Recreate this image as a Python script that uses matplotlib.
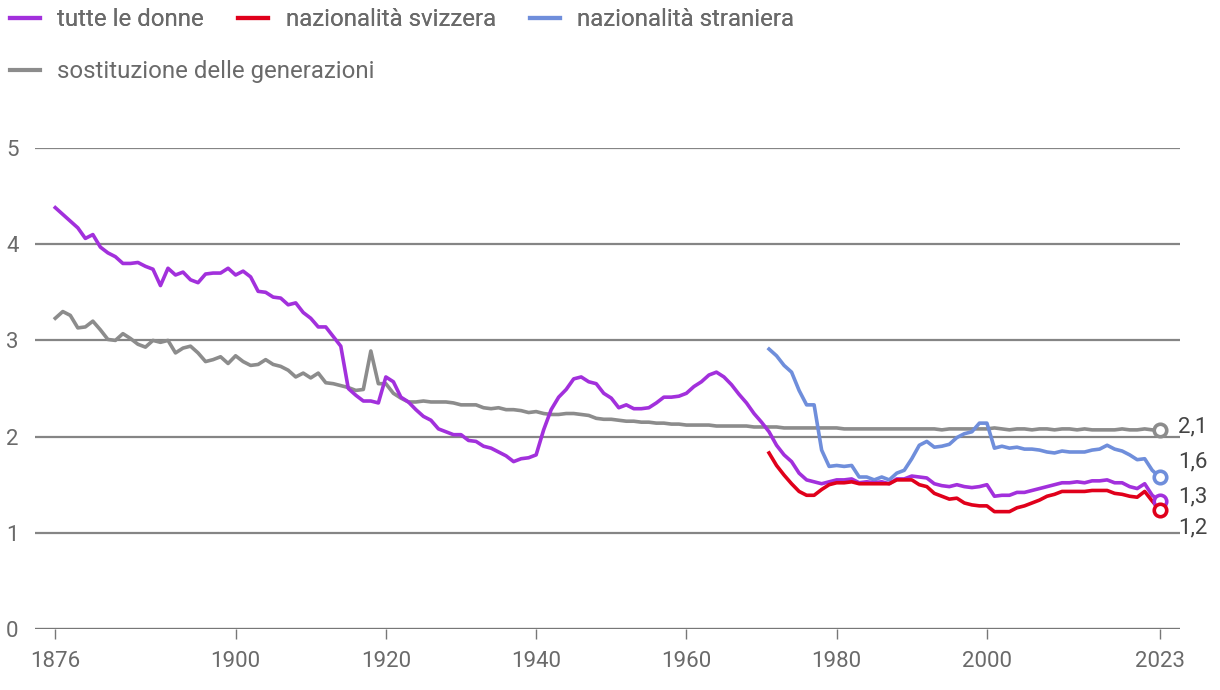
import numpy as np
import matplotlib
matplotlib.use('Agg')
import matplotlib.pyplot as plt
from matplotlib.lines import Line2D

plt.rcParams['font.family'] = ['Roboto', 'DejaVu Sans']

# anni
years_all = list(range(1876, 2024))
years_nat = list(range(1971, 2024))

# tutte le donne
all_women = [4.38, 4.31, 4.24, 4.17, 4.06, 4.10, 3.97, 3.91, 3.87, 3.80,
             3.80, 3.81, 3.77, 3.74, 3.57, 3.75, 3.68, 3.71, 3.63, 3.60,
             3.69, 3.70, 3.70, 3.75, 3.68, 3.72, 3.66, 3.51, 3.50, 3.45,
             3.44, 3.37, 3.39, 3.29, 3.23, 3.14, 3.14, 3.04, 2.94, 2.50,
             2.43, 2.37, 2.37, 2.35, 2.62, 2.57, 2.41, 2.36, 2.28, 2.21,
             2.17, 2.08, 2.05, 2.02, 2.02, 1.96, 1.95, 1.90, 1.88, 1.84,
             1.80, 1.74, 1.77, 1.78, 1.81, 2.07, 2.28, 2.41, 2.49, 2.60,
             2.62, 2.57, 2.55, 2.45, 2.40, 2.30, 2.33, 2.29, 2.29, 2.30,
             2.35, 2.41, 2.41, 2.42, 2.45, 2.52, 2.57, 2.64, 2.67, 2.62,
             2.54, 2.44, 2.35, 2.24, 2.15, 2.05, 1.91, 1.81, 1.74, 1.62,
             1.55, 1.53, 1.51, 1.53, 1.55, 1.55, 1.56, 1.52, 1.53, 1.52,
             1.53, 1.51, 1.56, 1.56, 1.59, 1.58, 1.57, 1.51, 1.49, 1.48,
             1.50, 1.48, 1.47, 1.48, 1.50, 1.38, 1.39, 1.39, 1.42, 1.42,
             1.44, 1.46, 1.48, 1.50, 1.52, 1.52, 1.53, 1.52, 1.54, 1.54,
             1.55, 1.52, 1.52, 1.48, 1.46, 1.51, 1.39, 1.33]

# sostituzione delle generazioni
replacement = [3.23, 3.30, 3.26, 3.13, 3.14, 3.20, 3.11, 3.01, 3.00, 3.07,
               3.02, 2.96, 2.93, 3.00, 2.98, 3.00, 2.87, 2.92, 2.94, 2.87,
               2.78, 2.80, 2.83, 2.76, 2.84, 2.78, 2.74, 2.75, 2.80, 2.75,
               2.73, 2.69, 2.62, 2.66, 2.61, 2.66, 2.56, 2.55, 2.53, 2.51,
               2.48, 2.49, 2.89, 2.55, 2.55, 2.45, 2.40, 2.36, 2.36, 2.37,
               2.36, 2.36, 2.36, 2.35, 2.33, 2.33, 2.33, 2.30, 2.29, 2.30,
               2.28, 2.28, 2.27, 2.25, 2.26, 2.24, 2.23, 2.23, 2.24, 2.24,
               2.23, 2.22, 2.19, 2.18, 2.18, 2.17, 2.16, 2.16, 2.15, 2.15,
               2.14, 2.14, 2.13, 2.13, 2.12, 2.12, 2.12, 2.12, 2.11, 2.11,
               2.11, 2.11, 2.11, 2.10, 2.10, 2.10, 2.10, 2.09, 2.09, 2.09,
               2.09, 2.09, 2.09, 2.09, 2.09, 2.08, 2.08, 2.08, 2.08, 2.08,
               2.08, 2.08, 2.08, 2.08, 2.08, 2.08, 2.08, 2.08, 2.07, 2.08,
               2.08, 2.08, 2.08, 2.08, 2.08, 2.09, 2.08, 2.07, 2.08, 2.08,
               2.07, 2.08, 2.08, 2.07, 2.08, 2.08, 2.07, 2.08, 2.07, 2.07,
               2.07, 2.07, 2.08, 2.07, 2.07, 2.08, 2.07, 2.07]

# nazionalità svizzera
swiss = [1.83, 1.70, 1.60, 1.51, 1.43, 1.39, 1.39, 1.45, 1.50, 1.52,
         1.52, 1.53, 1.51, 1.51, 1.51, 1.51, 1.51, 1.55, 1.55, 1.55,
         1.50, 1.48, 1.41, 1.38, 1.35, 1.36, 1.31, 1.29, 1.28, 1.28,
         1.22, 1.22, 1.22, 1.26, 1.28, 1.31, 1.34, 1.38, 1.40, 1.43,
         1.43, 1.43, 1.43, 1.44, 1.44, 1.44, 1.41, 1.40, 1.38, 1.37,
         1.43, 1.33, 1.24]

# nazionalità straniera
foreign = [2.91, 2.84, 2.74, 2.67, 2.48, 2.33, 2.33, 1.86, 1.69, 1.70,
           1.69, 1.70, 1.58, 1.58, 1.55, 1.58, 1.55, 1.62, 1.65, 1.77,
           1.91, 1.95, 1.89, 1.90, 1.92, 1.99, 2.03, 2.05, 2.14, 2.14,
           1.88, 1.90, 1.88, 1.89, 1.87, 1.87, 1.86, 1.84, 1.83, 1.85,
           1.84, 1.84, 1.84, 1.86, 1.87, 1.91, 1.87, 1.85, 1.81, 1.76,
           1.77, 1.65, 1.58]

x_ticks = [1876, 1900, 1920, 1940, 1960, 1980, 2000, 2023]
y_ticks = [0, 1, 2, 3, 4, 5]

labels = ['tutte le donne', 'nazionalità svizzera', 'nazionalità straniera',
          'sostituzione delle generazioni']
colors = ['#a230dc', '#e0001b', '#6f8edb', '#8c8c8c']
text_col = '#6a6a6a'

fig = plt.figure(figsize=(12.2, 6.9), dpi=100)
ax = fig.add_axes([35 / 1220, 61 / 690, 1145 / 1220, 481 / 690])
ax.set_xlim(1873.3, 2025.7)
ax.set_ylim(0, 5)

for v in y_ticks[1:]:
    ax.axhline(v, color='#858585', lw=1.6, zorder=1)
ax.axhline(0, color='#777777', lw=2.4, zorder=1)

series = [(years_all, replacement, colors[3]),
          (years_nat, foreign, colors[2]),
          (years_all, all_women, colors[0]),
          (years_nat, swiss, colors[1])]
for xs, ys, c in series:
    ax.plot(xs, ys, color=c, lw=2.6, solid_joinstyle='round', zorder=3)
    ax.plot(xs[-1], ys[-1], 'o', ms=9, mfc='white', mec=c, mew=2.6,
            zorder=4, clip_on=False)

# etichette finali
ends = [(replacement[-1], 2), (foreign[-1], 11), (all_women[-1], 3),
        (swiss[-1], -13)]
for val, dy in ends:
    ax.annotate(f'{val:.1f}'.replace('.', ','), (2023, val),
                xytext=(13, dy), textcoords='offset points',
                va='center', ha='left', fontsize=16, color='#444444',
                annotation_clip=False)

for s in ax.spines.values():
    s.set_visible(False)
ax.set_xticks(x_ticks)
ax.set_yticks(y_ticks)
ax.tick_params(axis='x', length=7, width=1, color='#777777', pad=9,
               labelsize=16, labelcolor=text_col)
ax.tick_params(axis='y', length=0, pad=12, labelsize=16, labelcolor=text_col)

handles = [Line2D([], [], color=c, lw=3) for c in colors]
leg_font = {'size': 17.3, 'weight': 'normal'}
leg1 = fig.legend(handles[:3], labels[:3], loc='upper left',
                  bbox_to_anchor=(10 / 1220, 1 - 8 / 690), ncol=3,
                  frameon=False, prop=leg_font, handlelength=1.25,
                  handletextpad=0.72, columnspacing=1.42, borderpad=0,
                  borderaxespad=0, labelcolor=text_col)
leg2 = fig.legend(handles[3:], labels[3:], loc='upper left',
                  bbox_to_anchor=(10 / 1220, 1 - 60 / 690), frameon=False,
                  prop=leg_font, handlelength=1.25, handletextpad=0.72,
                  borderpad=0, borderaxespad=0, labelcolor=text_col)
fig.add_artist(leg1)

fig.savefig('out.png', dpi=100)
